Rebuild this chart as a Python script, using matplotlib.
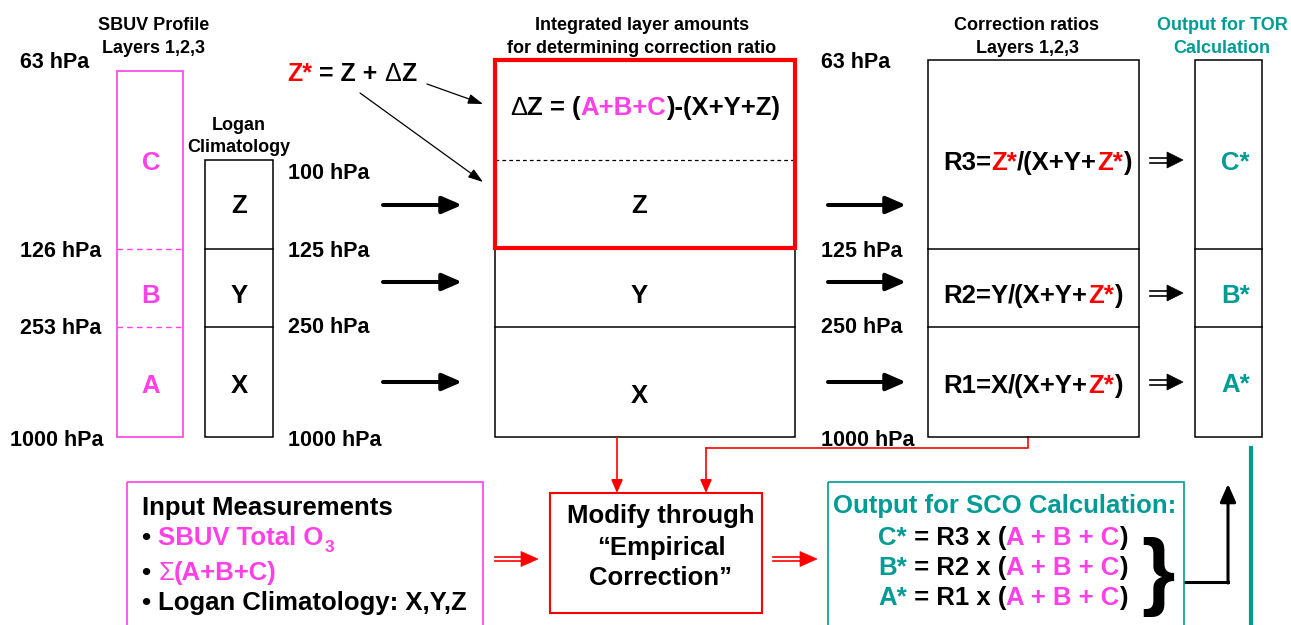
import matplotlib
matplotlib.use('Agg')
import matplotlib.pyplot as plt
from matplotlib.patches import Rectangle, Polygon

plt.rcParams['font.family'] = ['Liberation Sans', 'DejaVu Sans']
plt.rcParams['font.weight'] = 'bold'

MAG = '#FF40E6'
TEAL = '#009B95'
RED = '#FF0000'

# text content of the diagram
sbuv_title = ['SBUV Profile', 'Layers 1,2,3']
logan_title = ['Logan', 'Climatology']
mid_title = ['Integrated layer amounts', 'for determining correction ratio']
ratio_title = ['Correction ratios', 'Layers 1,2,3']
tor_title = ['Output for TOR', 'Calculation']
sbuv_levels = ['63 hPa', '126 hPa', '253 hPa', '1000 hPa']
logan_levels = ['100 hPa', '125 hPa', '250 hPa', '1000 hPa']
ratio_levels = ['63 hPa', '125 hPa', '250 hPa', '1000 hPa']
sbuv_layers = ['C', 'B', 'A']
logan_layers = ['Z', 'Y', 'X']
ratio_names = ['R3', 'R2', 'R1']
ratio_nums = ['Z*', 'Y', 'X']
tor_layers = ['C*', 'B*', 'A*']
modify_text = ['Modify through', '\u201cEmpirical', 'Correction\u201d']

fig = plt.figure(figsize=(12.91, 6.25), dpi=100)
ax = fig.add_axes([0, 0, 1, 1])
ax.set_xlim(0, 1291)
ax.set_ylim(625, 0)
ax.axis('off')
rend = fig.canvas.get_renderer()


def tw(s, size, weight='bold'):
    # width of a string in pixels (bars keep edge spaces counted)
    t = ax.text(0, 0, '|' + s + '|', fontsize=size, fontweight=weight)
    w = t.get_window_extent(rend).width
    t.remove()
    t = ax.text(0, 0, '||', fontsize=size, fontweight=weight)
    w2 = t.get_window_extent(rend).width
    t.remove()
    return w - w2


def rich(x, y, parts, size, ha='left'):
    # parts: (text, color[, weight[, size[, dy[, dx]]]])
    items = []
    for p in parts:
        s, c = p[0], p[1]
        wt = p[2] if len(p) > 2 else 'bold'
        sz = p[3] if len(p) > 3 else size
        dy = p[4] if len(p) > 4 else 0
        dx = p[5] if len(p) > 5 else 0
        items.append((s, c, wt, sz, dy, dx, tw(s, sz, wt)))
    total = sum(i[6] for i in items)
    if ha == 'center':
        x -= total / 2
    for s, c, wt, sz, dy, dx, w in items:
        ax.text(x + dx, y + dy, s, color=c, fontsize=sz,
                fontweight=wt, ha='left', va='baseline')
        x += w + dx


def lines(x, y, rows, size, step, **kw):
    for i, s in enumerate(rows):
        ax.text(x, y + i * step, s, fontsize=size, va='baseline', **kw)


def box(x0, y0, x1, y1, color='k', lw=1.1):
    ax.add_patch(Rectangle((x0, y0), x1 - x0, y1 - y0, fill=False,
                           ec=color, lw=lw, zorder=3))


def hline(x0, x1, y, color='k', lw=1.1, ls='-'):
    ax.plot([x0, x1], [y, y], color=color, lw=lw, ls=ls, zorder=3)


def arrow(x0, y0, x1, y1, color='k', lw=2.9, hl=0.6, hw=0.28, ms=20):
    ax.annotate('', xy=(x1, y1), xytext=(x0, y0),
                arrowprops=dict(arrowstyle='-|>,head_length=%s,head_width=%s' % (hl, hw),
                                color=color, lw=lw, mutation_scale=ms,
                                shrinkA=0, shrinkB=0))


def dbl_arrow(x0, x1, y, color, hlen, hh, gap, lw=1.2):
    for d in (-gap / 2, gap / 2):
        ax.plot([x0, x1 - hlen + 2], [y + d, y + d], color=color, lw=lw)
    ax.add_patch(Polygon([(x1 - hlen, y - hh / 2), (x1, y), (x1 - hlen, y + hh / 2)],
                         closed=True, fc=color, ec=color, lw=0.5))


# column titles
lines(154, 30, sbuv_title, 13, 23, ha='center')
lines(239, 130, logan_title, 13, 22, ha='center')
lines(642, 30, mid_title, 13, 23, ha='center')
lines(1027, 30, ratio_title, 13, 23, ha='center')
lines(1222, 30, tor_title, 13, 23, ha='center', color=TEAL)

# SBUV column
box(117, 71, 183, 437, MAG, 1.2)
for yy in (249, 327):
    hline(117, 183, yy, MAG, 1.0, (0, (4, 3)))
for lab, yb in zip(sbuv_layers, (170, 303, 393)):
    ax.text(151, yb, lab, color=MAG, fontsize=18.5, ha='center', va='baseline')
for lab, xx, yb in zip(sbuv_levels, (20, 20, 20, 10), (68, 257, 334, 446)):
    ax.text(xx, yb, lab, fontsize=15.5, ha='left', va='baseline')

# Logan column
box(205, 160, 273, 437)
for yy in (249, 327):
    hline(205, 273, yy)
for lab, yb in zip(logan_layers, (213, 303, 393)):
    ax.text(239, yb, lab, fontsize=18.5, ha='center', va='baseline')
for lab, yb in zip(logan_levels, (179, 257, 333, 446)):
    ax.text(288, yb, lab, fontsize=15.5, ha='left', va='baseline')

# arrows into middle and right columns
for yy in (205, 282, 382):
    arrow(383, yy, 462, yy, hl=0.6, hw=0.26)
    arrow(828, yy, 906, yy, hl=0.6, hw=0.26)

# Z* = Z + dZ
rich(287, 81, [('Z*', RED), (' = Z + ', 'k'), ('\u0394', 'k', 'normal'), ('Z', 'k')], 18)
arrow(427, 84, 483, 104, lw=0.9, hl=0.9, hw=0.3, ms=10)
arrow(360, 93, 483, 182, lw=0.9, hl=0.9, hw=0.3, ms=10)

# middle column
box(495, 60, 795, 437)
hline(495, 795, 327)
hline(495, 795, 160, 'k', 0.9, (0, (3, 2.5)))
box(495, 60, 795, 248, RED, 3.0)
rich(645, 115, [('\u0394', 'k', 'normal'), ('Z = (', 'k'), ('A+B+C', MAG), (')-(X+Y+Z)', 'k')],
     18.5, ha='center')
for lab, yb in zip(logan_layers, (213, 303, 403)):
    ax.text(639, yb, lab, fontsize=18.5, ha='center', va='baseline')
for lab, yb in zip(ratio_levels, (68, 257, 333, 446)):
    ax.text(821, yb, lab, fontsize=15.5, ha='left', va='baseline')

# correction ratio column
box(928, 60, 1139, 437)
for yy in (249, 327):
    hline(928, 1139, yy)
for nm, num, yb in zip(ratio_names, ratio_nums, (170, 303, 393)):
    parts = [(nm + '=', 'k')]
    parts.append((num, RED if num == 'Z*' else 'k'))
    parts += [('/(X+Y+', 'k'), ('Z*', RED), (')', 'k')]
    rich(943, yb, parts, 18.5)

# TOR output column
box(1195, 60, 1262, 437)
for yy in (249, 327):
    hline(1195, 1262, yy)
for lab, yy, yb in zip(tor_layers, (160, 293, 382), (170, 303, 392)):
    dbl_arrow(1150, 1183, yy, 'k', 16, 16, 5)
    ax.text(1221, yb, lab, color=TEAL, fontsize=18.5, ha='left', va='baseline')

# red feedback connectors
arrow(617, 437, 617, 493, color=RED, lw=1.2, hl=0.8, hw=0.35, ms=10)
ax.plot([1028, 1028, 706], [437, 448, 448], color=RED, lw=1.2)
arrow(706, 448, 706, 493, color=RED, lw=1.2, hl=0.8, hw=0.35, ms=10)

# input measurements box
box(127, 482, 483, 640, MAG, 1.2)
ax.text(142, 515, 'Input Measurements', fontsize=18.5, va='baseline')
rich(142, 545, [('\u2022 ', 'k'), ('SBUV Total O', MAG), ('3', MAG, 'bold', 12.5, 7, 1)], 18.5)
rich(142, 580, [('\u2022 ', 'k'), ('\u03a3', MAG, 'normal'), ('(A+B+C)', MAG)], 18.5)
rich(142, 610, [('\u2022 ', 'k'), ('Logan Climatology: X,Y,Z', 'k')], 18.5)

# modify box
dbl_arrow(495, 538, 559, RED, 17, 15, 4)
box(550, 493, 762, 613, RED, 1.5)
for s, yb in zip(modify_text, (523, 555, 585)):
    ax.text(661, yb, s, fontsize=18.5, ha='center', va='baseline')
dbl_arrow(773, 817, 559, RED, 17, 15, 4)

# SCO output box
box(828, 482, 1184, 640, TEAL, 1.2)
ax.text(833, 513, 'Output for SCO Calculation:', color=TEAL, fontsize=18.5, va='baseline')
for lab, nm, yb in zip(tor_layers, ratio_names, (545, 575, 605)):
    rich(878, yb, [(lab, TEAL), (' = ' + nm + ' x (', 'k'), ('A + B + C', MAG), (')', 'k')], 18.5)
ax.text(1158, 577, '}', fontsize=62, ha='center', va='center')
ax.plot([1185, 1228], [582, 582], color='k', lw=2.2, solid_joinstyle='miter')
arrow(1228, 583, 1228, 484, lw=2.2, hl=0.9, hw=0.4, ms=12)
ax.plot([1251, 1251], [448, 630], color=TEAL, lw=3)

fig.savefig('out.png', dpi=100)
